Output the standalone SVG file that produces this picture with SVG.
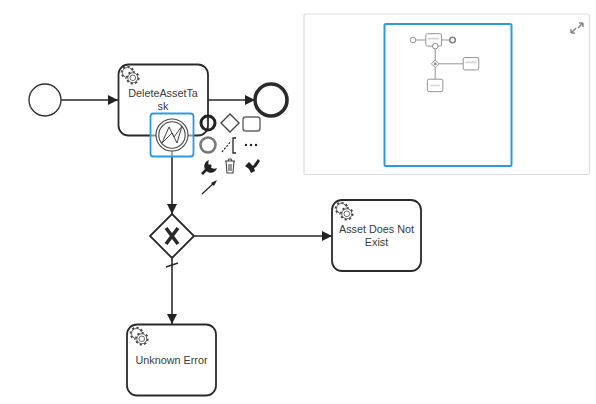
<svg xmlns="http://www.w3.org/2000/svg" xmlns:xlink="http://www.w3.org/1999/xlink" width="596" height="404" viewBox="0 0 596 404">
<style>
.s{fill:#fff;stroke:#2a2a2a;stroke-width:1.800}
.c{fill:none;stroke:#2a2a2a;stroke-width:1.600}
.t{font-family:"Liberation Sans",Arial,sans-serif;font-size:10.800px;fill:#3a3a3a;text-anchor:middle}
.g1{fill:none;stroke:#444;stroke-width:.8}
.g2{fill:none;stroke:#444;stroke-width:1.800;stroke-dasharray:2.200 2.300}
.ic{fill:none;stroke:#222}
</style>
<defs>
<marker id="arrow" markerUnits="userSpaceOnUse" markerWidth="11" markerHeight="11" refX="10" refY="5" orient="auto"><path d="M0 0L10 5L0 10Z" fill="#222"/></marker>
<g id="gear"><circle cx="-2.500" cy="-2.500" r="5" class="g1"/><circle cx="-2.500" cy="-2.500" r="5.900" class="g2"/><circle cx="2.800" cy="2.800" r="6.600" fill="#fff"/><circle cx="2.800" cy="2.800" r="5" class="g1"/><circle cx="2.800" cy="2.800" r="2.800" class="g1"/><circle cx="2.800" cy="2.800" r="5.900" class="g2"/></g>
<filter id="soft" x="-5%" y="-5%" width="110%" height="110%"><feGaussianBlur stdDeviation="0.6"/></filter>
</defs>
<rect width="596" height="404" fill="#fff"/>
<g id="connectors">
<path class="c" d="M61 100H118" marker-end="url(#arrow)"/>
<path class="c" d="M208 100H255" marker-end="url(#arrow)"/>
<path class="c" d="M172 151V214" marker-end="url(#arrow)"/>
<path class="c" d="M194 236H332" marker-end="url(#arrow)"/>
<path class="c" d="M172 258V324" marker-end="url(#arrow)"/>
<path class="c" d="M166 267L178 263"/>
</g>
<g id="start"><circle class="s" style="stroke-width:1.300" cx="45" cy="100" r="16"/></g>
<g id="end"><circle class="s" style="stroke-width:3.600" cx="271" cy="100" r="16"/></g>
<g id="task-delete">
<rect class="s" x="118.500" y="64.500" width="89.500" height="71" rx="10"/>
<use href="#gear" xlink:href="#gear" x="130" y="75"/>
<text class="t" x="163" y="97">DeleteAssetTa</text>
<text class="t" x="163" y="110">sk</text>
</g>
<g id="boundary">
<rect x="150.500" y="113.500" width="43" height="43" rx="3" fill="#fff" fill-opacity=".5" stroke="#2a9be0" stroke-width="1.800"/>
<circle cx="172" cy="135" r="16" fill="#fff" stroke="#444" stroke-width="1.100"/>
<circle cx="172" cy="135" r="13.200" fill="none" stroke="#444" stroke-width="1.100"/>
<path d="M162 143L169 127L174 137L182 126L177 143L172 133Z" fill="none" stroke="#444" stroke-width="1"/>
</g>
<g id="palette">
<circle class="ic" cx="208" cy="123" r="7" stroke-width="3"/>
<path class="ic" style="stroke:#444" stroke-width="1.400" d="M230 114L239 123L230 132L221 123Z"/>
<rect class="ic" style="stroke:#666" stroke-width="1.400" x="243" y="117" width="17" height="14" rx="2.500"/>
<circle class="ic" style="stroke:#777" cx="208" cy="145" r="7.500" stroke-width="2.600"/>
<path class="ic" stroke-width="1.200" stroke-dasharray="2 1.500" d="M222 152L231 141"/>
<path class="ic" stroke-width="1.300" d="M236 138H233V153H236"/>
<g fill="#222"><circle cx="246" cy="145" r="1.200"/><circle cx="251" cy="145" r="1.200"/><circle cx="256" cy="145" r="1.200"/></g>
<path class="ic" stroke-width="2.600" d="M202 174L211 165"/>
<path d="M209 160A6.500 6.500 0 1 0 217 168A6 6 0 0 1 209 160Z" fill="#222"/>
<path class="ic" style="stroke:#444" stroke-width="1.100" d="M225 161H235M228 161L229 159H231L232 161M226 161L227 173H233L234 161M229 164V171M231 164V171"/>
<path d="M245 166L249 162L253 166L258 159L260 161L256 167L254 168L255 171L251 173L249 169Z" fill="#222"/>
<path class="ic" stroke-width="1.300" d="M202 194L215 182"/>
<path d="M217 180L214 186L211 183Z" fill="#222"/>
</g>
<g id="gateway">
<path class="s" d="M172 214L194 236L172 258L150 236Z"/>
<path d="M166 228L178 244M178 228L166 244" fill="none" stroke="#2a2a2a" stroke-width="3.600"/>
</g>
<g id="task-asset">
<rect class="s" x="332" y="200" width="89" height="71" rx="10"/>
<use href="#gear" xlink:href="#gear" x="344" y="211"/>
<text class="t" x="376.500" y="233">Asset Does Not</text>
<text class="t" x="376.500" y="246">Exist</text>
</g>
<g id="task-unknown">
<rect class="s" x="127" y="324.500" width="89" height="71" rx="10"/>
<use href="#gear" xlink:href="#gear" x="139" y="336"/>
<text class="t" x="171.500" y="364">Unknown Error</text>
</g>
<g id="minimap">
<rect x="304" y="14" width="285.500" height="160.500" rx="1.500" fill="#fff" stroke="#ddd" stroke-width="1.200"/>
<g filter="url(#soft)" opacity=".6" transform="translate(405.100 22.500) scale(.175)" fill="#fff" stroke="#333" stroke-width="5">
<path d="M61 100H118M208 100H255M172 151V214M194 236H332M172 258V324" fill="none"/>
<circle cx="45" cy="100" r="16"/><circle cx="271" cy="100" r="16" stroke-width="9"/>
<rect x="118" y="64" width="90" height="71" rx="10"/>
<circle cx="172" cy="135" r="16"/>
<path d="M172 214L194 236L172 258L150 236Z"/>
<path d="M166 230L178 242M178 230L166 242" stroke-width="7"/>
<rect x="332" y="200" width="89" height="71" rx="10"/>
<rect x="127" y="324" width="89" height="71" rx="10"/>
<path d="M130 92H196M345 228H410M145 360H198" stroke-width="9" stroke="#bbb"/>
</g>
<rect x="384.500" y="24" width="127" height="142" rx="1.500" fill="none" stroke="#2a9be0" stroke-width="2"/>
<g filter="url(#soft)"><path d="M571 33L576 28M571 33V29M571 33H575M583 23L578 28M583 23V27M583 23H579" fill="none" stroke="#888" stroke-width="1.500"/></g>
</g>
</svg>
